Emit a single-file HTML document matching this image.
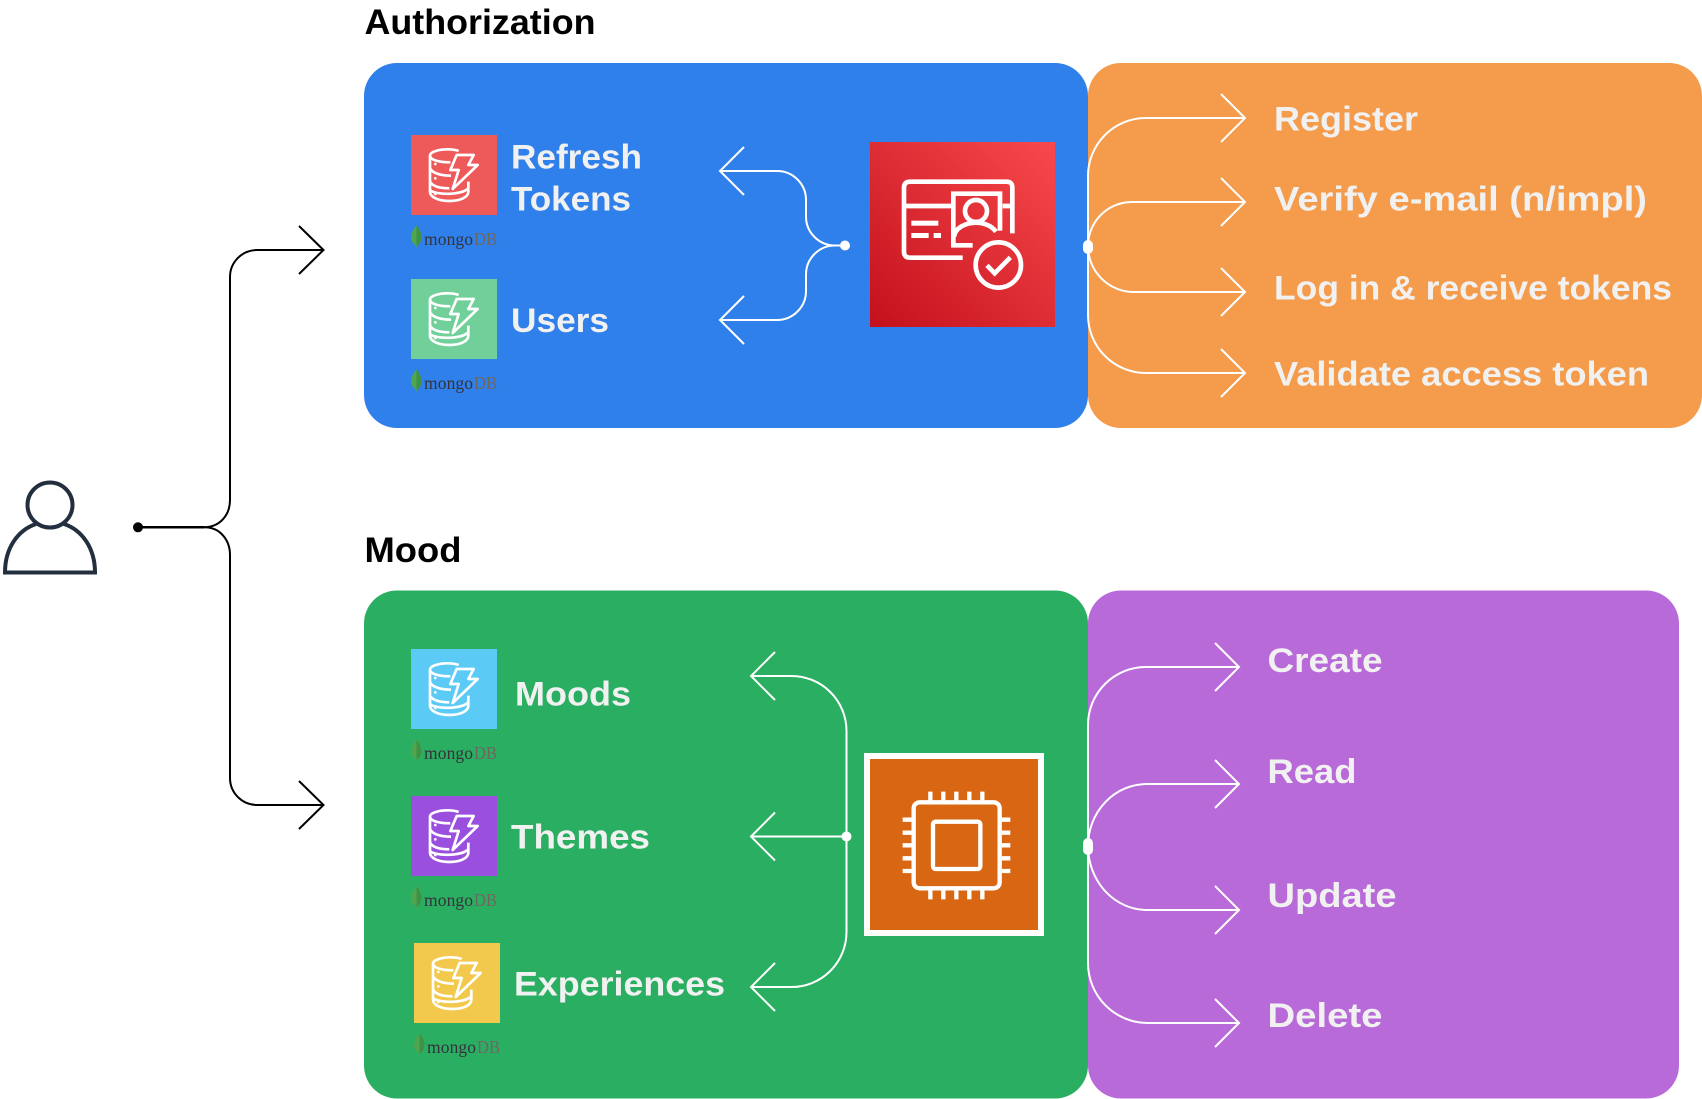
<!DOCTYPE html>
<html><head><meta charset="utf-8"><style>
html,body{margin:0;padding:0;background:#fff;width:1702px;height:1099px;overflow:hidden}
svg{display:block}
.t{font-family:"Liberation Sans",sans-serif;font-weight:bold;fill:#f1f1f1;font-size:34px}
.h{font-family:"Liberation Sans",sans-serif;font-weight:bold;fill:#000;font-size:35px}
.w{fill:none;stroke:#fff;stroke-width:2}
.k{fill:none;stroke:#000;stroke-width:2}
.m{font-family:"Liberation Serif",serif;font-size:17.5px}
</style></head><body>
<svg width="1702" height="1099" viewBox="0 0 1702 1099" xmlns="http://www.w3.org/2000/svg">
<defs>
<linearGradient id="rg" x1="0" y1="1" x2="1" y2="0"><stop offset="0" stop-color="#c4101c"/><stop offset="1" stop-color="#f84a4c"/></linearGradient>
<symbol id="dy" width="86" height="80" viewBox="0 0 258 240">
<g fill="none" stroke="#fff" stroke-width="8">
<path d="M57 62C57 50 85 43 110 43C125 43 135 45 143 48M57 62C57 75 85 82 118 82M57 62V170C57 188 85 198 115 198C145 198 172 188 172 170V140M57 100C65 115 90 122 120 122M57 140C65 155 90 160 115 160M57 165C70 180 150 182 172 160"/>
<path d="M137 60H188L172 90H200L125 162L143 105H118Z" stroke-linejoin="round"/>
</g>
<g fill="#fff"><circle cx="73" cy="87" r="4"/><circle cx="73" cy="130" r="4"/><circle cx="73" cy="177" r="4"/></g>
</symbol>
<symbol id="mg" width="86" height="30" viewBox="0 0 86 30" overflow="visible">
<path d="M5.5 0C8 3 10.500 7 10.500 12C10.500 16 8 19 6 20L5.500 23L5 20C2.500 18.500 0 16 0 12C0 7 3 3 5.500 0Z" fill="#4fa64f"/>
<path d="M5.500 0C8 3 10.500 7 10.500 12C10.500 16 8 19 6 20L5.500 21Z" fill="#3f9145"/>
<text x="13" y="19.500" class="m" fill="#35323a" textLength="49" lengthAdjust="spacing">mongo</text>
<text x="63" y="19.500" class="m" fill="#6f6660" textLength="23" lengthAdjust="spacingAndGlyphs">DB</text>
</symbol>
</defs>

<text x="364.500" y="34" class="h" textLength="231" lengthAdjust="spacingAndGlyphs">Authorization</text>
<text x="364.500" y="562" class="h" textLength="97" lengthAdjust="spacingAndGlyphs">Mood</text>

<rect x="1088" y="63" width="614" height="365" rx="33" fill="#f49b4c"/>
<rect x="364" y="63" width="724" height="365" rx="33" fill="#3080ec"/>
<rect x="1088" y="590.500" width="591" height="508" rx="33" fill="#b96ad9"/>
<rect x="364" y="590.500" width="724" height="508" rx="33" fill="#2aaf62"/>

<!-- icons -->
<rect x="411" y="135" width="86" height="80" fill="#ee5a5a"/><use href="#dy" x="411" y="135"/><use href="#mg" x="411" y="225.500"/>
<rect x="411" y="279" width="86" height="80" fill="#71d099"/><use href="#dy" x="411" y="279"/><use href="#mg" x="411" y="369.500"/>
<rect x="411" y="649" width="86" height="80" fill="#5bcbf5"/><use href="#dy" x="411" y="649"/><use href="#mg" x="411" y="739.500"/>
<rect x="411" y="796" width="86" height="80" fill="#9b4fdf"/><use href="#dy" x="411" y="796"/><use href="#mg" x="411" y="886.500"/>
<rect x="414" y="943" width="86" height="80" fill="#f2c94c"/><use href="#dy" x="414" y="943"/><use href="#mg" x="414" y="1033.500"/>

<!-- labels -->
<g class="t">
<text class="t" x="511" y="168.500" textLength="131" lengthAdjust="spacingAndGlyphs">Refresh</text>
<text class="t" x="511" y="210.500" textLength="120" lengthAdjust="spacingAndGlyphs">Tokens</text>
<text class="t" x="511" y="332" textLength="98" lengthAdjust="spacingAndGlyphs">Users</text>
<text class="t" x="515" y="705.500" textLength="116" lengthAdjust="spacingAndGlyphs">Moods</text>
<text class="t" x="511" y="848.500" textLength="139" lengthAdjust="spacingAndGlyphs">Themes</text>
<text class="t" x="514" y="995.500" textLength="211" lengthAdjust="spacingAndGlyphs">Experiences</text>
<text class="t" x="1274" y="130.500" textLength="144" lengthAdjust="spacingAndGlyphs">Register</text>
<text class="t" x="1274" y="210.500" textLength="373" lengthAdjust="spacingAndGlyphs">Verify e-mail (n/impl)</text>
<text class="t" x="1274" y="299.500" textLength="398" lengthAdjust="spacingAndGlyphs">Log in &amp; receive tokens</text>
<text class="t" x="1274" y="385.500" textLength="375" lengthAdjust="spacingAndGlyphs">Validate access token</text>
<text class="t" x="1267.500" y="672" textLength="115" lengthAdjust="spacingAndGlyphs">Create</text>
<text class="t" x="1267.500" y="783" textLength="89" lengthAdjust="spacingAndGlyphs">Read</text>
<text class="t" x="1267.500" y="907" textLength="129" lengthAdjust="spacingAndGlyphs">Update</text>
<text class="t" x="1267.500" y="1027" textLength="115" lengthAdjust="spacingAndGlyphs">Delete</text>
</g>

<!-- user -->
<g fill="none" stroke="#232f3e" stroke-width="4">
<circle cx="50" cy="505" r="22.500"/>
<path d="M36 524C18 530 5 548 5 572.500H95C95 548 82 530 64 524"/>
</g>

<!-- black connectors -->
<circle cx="138" cy="527.300" r="5" fill="#000"/>
<path d="M138 527.300H204" stroke="#000" stroke-width="2.500" fill="none"/>
<path class="k" d="M204 527.300C220 527 230 515 230 500V277A27 27 0 0 1 257 250H323M299 226L323.500 250L299 274"/>
<path class="k" d="M204 527.300C220 527 230 540 230 555V778A27 27 0 0 0 257 805H323M299 781L323.500 805L299 829"/>

<!-- blue connectors -->
<circle cx="845" cy="245.500" r="5" fill="#fff"/>
<path class="w" d="M845 245.500H835A29 29 0 0 1 806 216.500V200A29 29 0 0 0 777 171H721M744 147L720 171L744 195"/>
<path class="w" d="M845 245.500H835A29 29 0 0 0 806 274.500V291A29 29 0 0 1 777 320H721M744 296L720 320L744 344"/>

<!-- red box -->
<rect x="870" y="142" width="185" height="185" fill="url(#rg)"/>
<g transform="translate(850 120) scale(.33333)" fill="none" stroke="#fff" stroke-width="14">
<path d="M338 413H180Q162 413 162 395V203Q162 185 180 185H470Q487 185 487 203V340M162 258H303M458 258H487"/>
<path d="M450 332V221H310V376H368"/>
<circle cx="378" cy="273" r="33"/>
<path d="M312 350C315 325 345 308 378 308C403 308 425 318 438 335"/>
<circle cx="445" cy="435" r="68"/>
<path d="M411 436L434 460L481 412"/>
<g fill="#fff" stroke="none"><rect x="184" y="302" width="81" height="15"/><rect x="184" y="339" width="52" height="15"/><rect x="251" y="339" width="22" height="15"/></g>
</g>

<!-- orange connectors -->
<rect x="1083" y="240" width="10" height="14" rx="5" fill="#fff"/>
<path class="w" d="M1088 246V176A58 58 0 0 1 1146 118H1244M1221 94L1245 118L1221 142"/>
<path class="w" d="M1088 246A44 44 0 0 1 1132 202H1244M1221 178L1245 202L1221 226"/>
<path class="w" d="M1088 246A46 46 0 0 0 1134 292H1244M1221 268L1245 292L1221 316"/>
<path class="w" d="M1088 246V315A58 58 0 0 0 1146 373H1244M1221 349L1245 373L1221 397"/>

<!-- green connectors -->
<circle cx="846.500" cy="836.500" r="5" fill="#fff"/>
<path class="w" d="M846.500 836.500V731A55 55 0 0 0 791.500 676H752M775 652L751 676L775 700"/>
<path class="w" d="M846.500 836.500H752M775 812.500L751 836.500L775 860.500"/>
<path class="w" d="M846.500 836.500V932A55 55 0 0 1 791.500 987H752M775 963L751 987L775 1011"/>

<!-- ec2 -->
<rect x="867" y="756" width="174" height="177" fill="#d96612" stroke="#fff" stroke-width="6"/>
<g transform="translate(840 640) scale(.33333)" fill="none" stroke="#fff" stroke-width="13">
<rect x="221" y="487" width="258" height="258" rx="18"/>
<rect x="279" y="545" width="142" height="142" rx="8"/>
<path d="M271 455V481M310 455V481M349 455V481M388 455V481M427 455V481M271 751V778M310 751V778M349 751V778M388 751V778M427 751V778M188 539H215M188 578H215M188 616H215M188 655H215M188 693H215M485 539H511M485 578H511M485 616H511M485 655H511M485 693H511"/>
</g>

<!-- purple connectors -->
<rect x="1083" y="838" width="10" height="17" rx="5" fill="#fff"/>
<path class="w" d="M1088 846V725A58 58 0 0 1 1146 667H1238M1215 643L1239 667L1215 691"/>
<path class="w" d="M1088 846A59 62 0 0 1 1147 784H1238M1215 760L1239 784L1215 808"/>
<path class="w" d="M1088 846A59 64 0 0 0 1147 910H1238M1215 886L1239 910L1215 934"/>
<path class="w" d="M1088 846V963A60 60 0 0 0 1148 1023H1238M1215 999L1239 1023L1215 1047"/>
</svg>
</body></html>
